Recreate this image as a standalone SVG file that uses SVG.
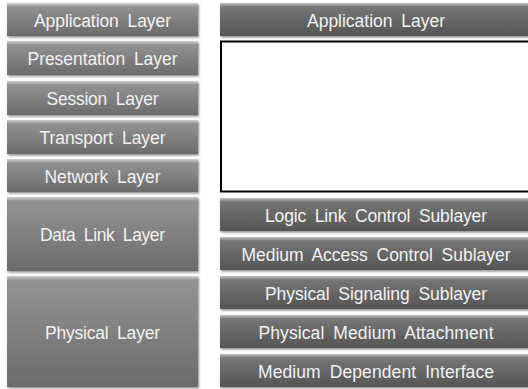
<svg xmlns="http://www.w3.org/2000/svg" width="528" height="389" viewBox="0 0 528 389">
<defs>
<linearGradient id="gL" x1="0" y1="0" x2="0" y2="1">
<stop offset="0" stop-color="#969696"/>
<stop offset="1" stop-color="#6b6b6b"/>
</linearGradient>
<linearGradient id="gR" x1="0" y1="0" x2="0" y2="1">
<stop offset="0" stop-color="#7a7a7a"/>
<stop offset="1" stop-color="#555555"/>
</linearGradient>
<linearGradient id="hl" x1="0" y1="0" x2="0" y2="1">
<stop offset="0" stop-color="#ffffff" stop-opacity="0.55"/>
<stop offset="1" stop-color="#ffffff" stop-opacity="0"/>
</linearGradient>
<filter id="sh" x="-5%" y="-10%" width="115%" height="130%">
<feDropShadow dx="1" dy="1.5" stdDeviation="1" flood-color="#000" flood-opacity="0.45"/>
</filter>
</defs>
<style>
.bl{fill:url(#gL);filter:url(#sh)}
.br{fill:url(#gR);filter:url(#sh)}
.h{fill:url(#hl)}
text{font-family:"Liberation Sans","Noto Sans CJK KR",Arial,sans-serif;font-size:17.5px;word-spacing:4px;fill:#f2f2f2;text-anchor:middle}
</style>
<rect width="528" height="389" fill="#ffffff"/>

<g id="l-app"><rect class="bl" x="7" y="3" width="191" height="33"/><rect class="h" x="7" y="3" width="191" height="4"/><text x="102.5" y="26.5" textLength="137" lengthAdjust="spacing">Application Layer</text></g>
<g id="l-pres"><rect class="bl" x="7" y="41" width="191" height="34"/><rect class="h" x="7" y="41" width="191" height="4"/><text x="102.5" y="65" textLength="150" lengthAdjust="spacing">Presentation Layer</text></g>
<g id="l-sess"><rect class="bl" x="7" y="81" width="191" height="34"/><rect class="h" x="7" y="81" width="191" height="4"/><text x="102.5" y="105" textLength="112" lengthAdjust="spacing">Session Layer</text></g>
<g id="l-trans"><rect class="bl" x="7" y="120" width="191" height="34"/><rect class="h" x="7" y="120" width="191" height="4"/><text x="102.5" y="144" textLength="126" lengthAdjust="spacing">Transport Layer</text></g>
<g id="l-net"><rect class="bl" x="7" y="159" width="191" height="33"/><rect class="h" x="7" y="159" width="191" height="4"/><text x="102.5" y="182.5" textLength="116" lengthAdjust="spacing">Network Layer</text></g>
<g id="l-dl"><rect class="bl" x="7" y="197" width="191" height="74"/><rect class="h" x="7" y="197" width="191" height="4"/><text x="102.5" y="241" textLength="125" lengthAdjust="spacing">Data Link Layer</text></g>
<g id="l-phy"><rect class="bl" x="7" y="276" width="191" height="111"/><rect class="h" x="7" y="276" width="191" height="4"/><text x="102.5" y="338.5" textLength="115" lengthAdjust="spacing">Physical Layer</text></g>

<g id="r-app"><rect class="br" x="220" y="3" width="315" height="33"/><rect class="h" x="220" y="3" width="315" height="4"/><text x="376" y="26.5" textLength="138" lengthAdjust="spacing">Application Layer</text></g>
<g id="r-empty"><rect x="221" y="41.5" width="315" height="150" fill="#ffffff" stroke="#000000" stroke-width="2"/></g>
<g id="r-llc"><rect class="br" x="220" y="198" width="315" height="33"/><rect class="h" x="220" y="198" width="315" height="4"/><text x="376" y="221.5" textLength="222" lengthAdjust="spacing">Logic Link Control Sublayer</text></g>
<g id="r-mac"><rect class="br" x="220" y="237" width="315" height="33"/><rect class="h" x="220" y="237" width="315" height="4"/><text x="376" y="260.5" textLength="269" lengthAdjust="spacing">Medium Access Control Sublayer</text></g>
<g id="r-pss"><rect class="br" x="220" y="276" width="315" height="33"/><rect class="h" x="220" y="276" width="315" height="4"/><text x="376" y="299.5" textLength="222" lengthAdjust="spacing">Physical Signaling Sublayer</text></g>
<g id="r-pma"><rect class="br" x="220" y="315" width="315" height="33"/><rect class="h" x="220" y="315" width="315" height="4"/><text x="376" y="338.5" textLength="235" lengthAdjust="spacing">Physical Medium Attachment</text></g>
<g id="r-mdi"><rect class="br" x="220" y="354" width="315" height="33"/><rect class="h" x="220" y="354" width="315" height="4"/><text x="376" y="377.5" textLength="236" lengthAdjust="spacing">Medium Dependent Interface</text></g>
<g id="connectors"/>
</svg>
